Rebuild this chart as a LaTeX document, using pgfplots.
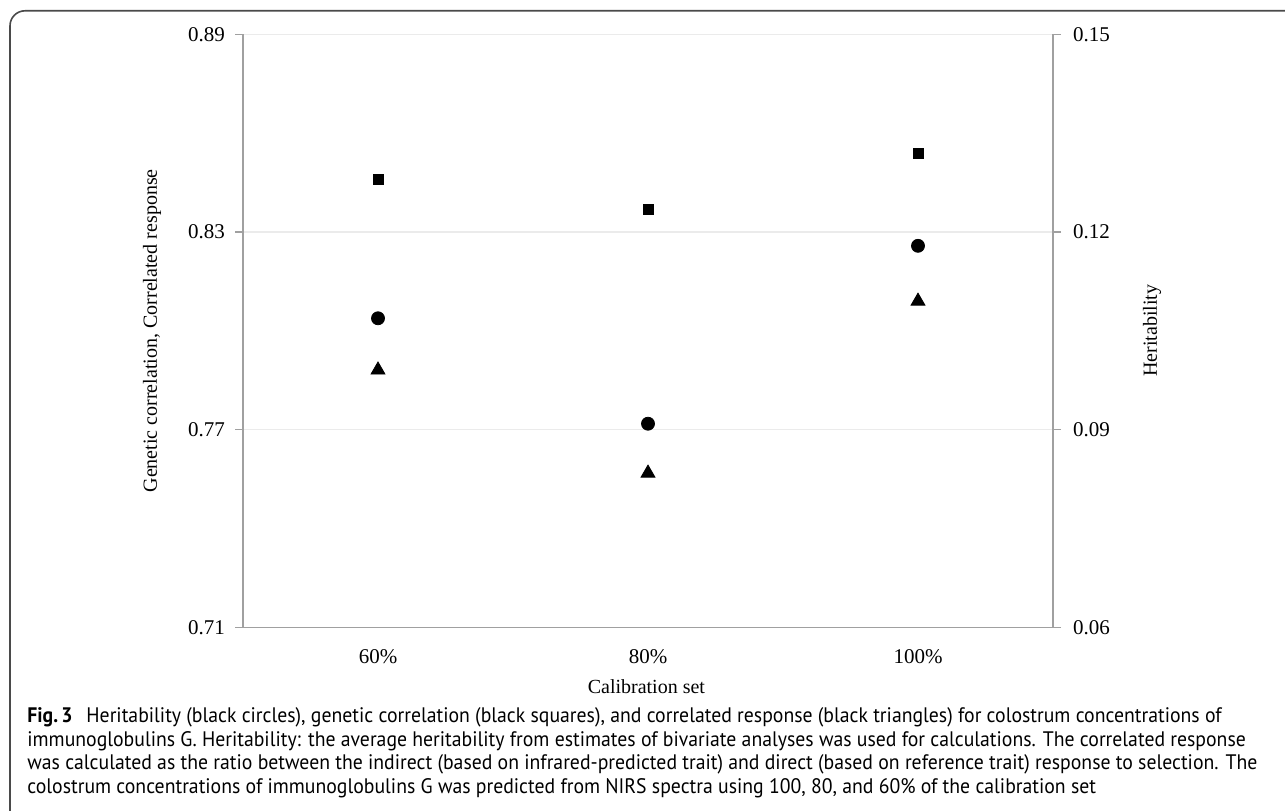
\documentclass[border=0pt]{standalone}
\usepackage{pgfplots}
\pgfplotsset{compat=1.18}
\usepackage{fontspec}
\setmainfont{Liberation Serif}
\newfontfamily\capfont{PT Sans}
\definecolor{axgray}{HTML}{A0A0A0}
\definecolor{gridgray}{HTML}{EBEBEB}
\definecolor{framegray}{HTML}{4A4A4A}
\newsavebox\capbox
\newlength\capnat
\newcommand\caplinefont{\capfont\fontsize{10.5}{12}\selectfont}
% horizontal scale derived from line 3 (target width 615pt)
\newcommand\setcapscale{%
  \sbox\capbox{\caplinefont was calculated as the ratio between the indirect (based on infrared-predicted trait) and direct (based on reference trait) response to selection. The}%
  \setlength\capnat{\wd\capbox}%
  \pgfmathsetmacro\capsx{615/\capnat}%
  \global\let\capsx\capsx
}
\newcommand\capline[1]{\scalebox{\capsx}[1]{\caplinefont #1}}

\begin{document}
\setcapscale%
\begin{tikzpicture}
\useasboundingbox (0pt,0pt) rectangle (642.5pt,405pt);
\draw[framegray, line width=0.8pt, rounded corners=7.5pt] (5pt,-30pt) -- (5pt,399.6pt) -- (680pt,399.6pt) -- (680pt,-30pt);

\begin{axis}[
  at={(121.5pt,91.35pt)}, anchor=south west,
  scale only axis, width=405pt, height=296.5pt,
  xmin=-0.5, xmax=2.5, ymin=0.71, ymax=0.89,
  xtick={0,1,2}, xticklabels={60\%,80\%,100\%},
  ytick={0.71,0.77,0.83,0.89},
  /pgf/number format/fixed, /pgf/number format/precision=2, /pgf/number format/fixed zerofill,
  /pgf/number format/assume math mode=true,
  axis y line*=left, axis x line*=bottom,
  axis line style={axgray, line width=0.6pt},
  tick align=outside,
  major tick length=4pt,
  ytick style={axgray, line width=0.6pt},
  xtick style={draw=none},
  ymajorgrids, grid style={gridgray, line width=0.6pt},
  tick label style={font=\fontsize{10.5}{12}\selectfont, black},
  xticklabel style={yshift=-3.5pt},
  yticklabel style={xshift=-1.5pt},
  xlabel={Calibration set},
  ylabel={Genetic correlation, Correlated response},
  label style={font=\fontsize{12}{14}\selectfont},
  every axis x label/.style={at={(axis description cs:0.498,-0.1108)}, anchor=base},
  every axis y label/.style={at={(axis description cs:-0.1123,0.5)}, rotate=90, anchor=center},
  clip=false,
]
\addplot[only marks, mark=square*, mark size=2.5pt, black] coordinates {(0,0.8461) (1,0.8370) (2,0.8540)};
\addplot[only marks, mark=triangle*, mark size=4pt, black] coordinates {(0,0.7881) (1,0.7568) (2,0.8090)};
\end{axis}

\begin{axis}[
  at={(121.5pt,91.35pt)}, anchor=south west,
  scale only axis, width=405pt, height=296.5pt,
  xmin=-0.5, xmax=2.5, ymin=0.06, ymax=0.15,
  ytick={0.06,0.09,0.12,0.15},
  /pgf/number format/fixed, /pgf/number format/precision=2, /pgf/number format/fixed zerofill,
  /pgf/number format/assume math mode=true,
  axis y line*=right, axis x line=none,
  axis line style={axgray, line width=0.6pt},
  tick align=outside,
  major tick length=4pt,
  ytick style={axgray, line width=0.6pt},
  tick label style={font=\fontsize{10.5}{12}\selectfont, black},
  yticklabel style={xshift=2.5pt},
  ylabel={Heritability},
  label style={font=\fontsize{12}{14}\selectfont},
  every axis y label/.style={at={(axis description cs:1.1222,0.5)}, rotate=90, anchor=center},
  clip=false,
]
\addplot[only marks, mark=*, mark size=3.25pt, black] coordinates {(0,0.1069) (1,0.0909) (2,0.1179)};
\end{axis}

\node[anchor=base west, inner sep=0] at (13.5pt,44pt) {\capline{\textbf{Fig.\,3}\hspace{0.7em}Heritability (black circles), genetic correlation (black squares), and correlated response (black triangles) for colostrum concentrations of}};
\node[anchor=base west, inner sep=0] at (13.5pt,32pt) {\capline{immunoglobulins G. Heritability: the average heritability from estimates of bivariate analyses was used for calculations. The correlated response}};
\node[anchor=base west, inner sep=0] at (13.5pt,20.5pt) {\capline{was calculated as the ratio between the indirect (based on infrared-predicted trait) and direct (based on reference trait) response to selection. The}};
\node[anchor=base west, inner sep=0] at (13.5pt,8.5pt) {\capline{colostrum concentrations of immunoglobulins G was predicted from NIRS spectra using 100, 80, and 60\% of the calibration set}};
\end{tikzpicture}
\end{document}
